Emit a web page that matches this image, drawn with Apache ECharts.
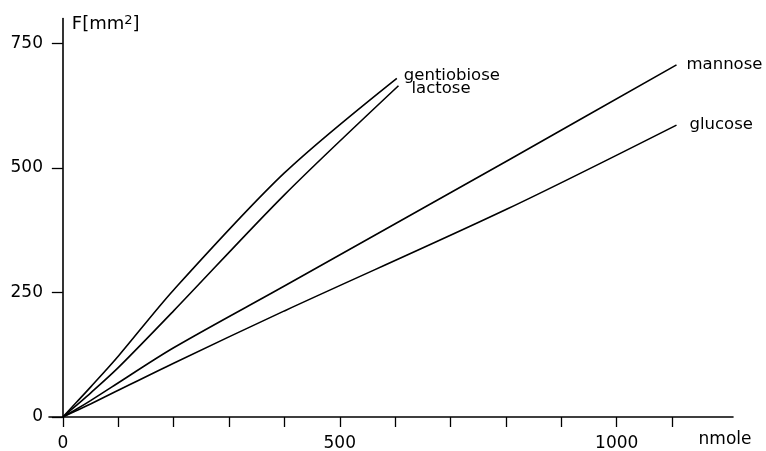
<!DOCTYPE html>
<html>
<head>
<meta charset="utf-8">
<script src="https://cdn.jsdelivr.net/npm/echarts@6/dist/echarts.min.js"></script>
<style>html,body{margin:0;padding:0;background:#fff}#c{width:766px;height:451px}</style>
</head>
<body>
<div id="c"></div>
<script>
// nmole values and areas F [mm2]
const gentiobioseX = [0, 25, 50, 100, 200, 400, 603];
const gentiobioseY = [0, 30, 60, 122, 255, 490, 680];
const lactoseX = [0, 25, 50, 100, 200, 400, 606];
const lactoseY = [0, 24, 48, 99, 213, 446, 665];
const mannoseX = [0, 25, 50, 88, 200, 400, 805, 1108];
const mannoseY = [0, 16, 33, 60, 139, 263, 516, 707];
const glucoseX = [0, 25, 50, 90, 200, 400, 803, 1108];
const glucoseY = [0, 13, 26, 48, 108, 213, 418, 586];
const xTicks = [0, 100, 200, 300, 400, 500, 600, 700, 800, 900, 1000, 1100];
const xLabels = [0, 500, 1000];
const yTicks = [0, 250, 500, 750];

const pairs = (xs, ys) => xs.map((x, i) => [x, ys[i]]);
const font = 'DejaVu Sans';
function mk(name, xs, ys, offset) {
  return {
    name: name, type: 'line', data: pairs(xs, ys), smooth: 0.3,
    symbol: 'none', lineStyle: {color: '#000', width: 1.6},
    endLabel: {show: true, formatter: name, distance: 7, color: '#000',
      fontFamily: font, fontSize: 16.5, offset: offset},
    silent: true, animation: false
  };
}
const chart = echarts.init(document.getElementById('c'), null, {renderer: 'canvas'});
chart.setOption({
  animation: false,
  grid: {left: 49, right: 33, top: 18.5, bottom: 34, containLabel: false, outerBoundsMode: 'none'},
  xAxis: {
    type: 'value', min: -25, max: 1210,
    name: 'nmole', nameLocation: 'end', nameGap: -8,
    nameTextStyle: {color: '#000', fontFamily: font, fontSize: 17, align: 'center',
      verticalAlign: 'top', padding: [14, 0, 0, 0]},
    axisLine: {show: true, onZero: false, lineStyle: {color: '#000', width: 1.6}},
    axisTick: {show: true, inside: false, length: 10, customValues: xTicks,
      lineStyle: {color: '#000', width: 1.3}},
    axisLabel: {show: true, customValues: xLabels, margin: 18, color: '#000',
      fontFamily: font, fontSize: 17, formatter: v => String(v)},
    splitLine: {show: false}
  },
  yAxis: {
    type: 'value', min: 0, max: 800,
    name: 'F[mm{s|2}]', nameLocation: 'end', nameGap: -6,
    nameTextStyle: {color: '#000', fontFamily: font, fontSize: 18, align: 'left',
      verticalAlign: 'middle', padding: [0, 0, 0, 9],
      rich: {s: {fontSize: 13, verticalAlign: 'top', padding: [0, 0, 8, 0], color: '#000', fontFamily: font}}},
    axisLine: {show: true, onZero: true, lineStyle: {color: '#000', width: 1.6}},
    axisTick: {show: true, inside: false, length: 11, customValues: yTicks,
      lineStyle: {color: '#000', width: 1.3}},
    axisLabel: {show: true, customValues: yTicks, margin: 6, color: '#000',
      fontFamily: font, fontSize: 17, formatter: v => String(v)},
    splitLine: {show: false}
  },
  series: [
    mk('gentiobiose', gentiobioseX, gentiobioseY, [0, -3]),
    mk('lactose', lactoseX, lactoseY, [6, 3]),
    mk('mannose', mannoseX, mannoseY, [3, 0]),
    mk('glucose', glucoseX, glucoseY, [6, 0])
  ]
});
</script>
</body>
</html>
